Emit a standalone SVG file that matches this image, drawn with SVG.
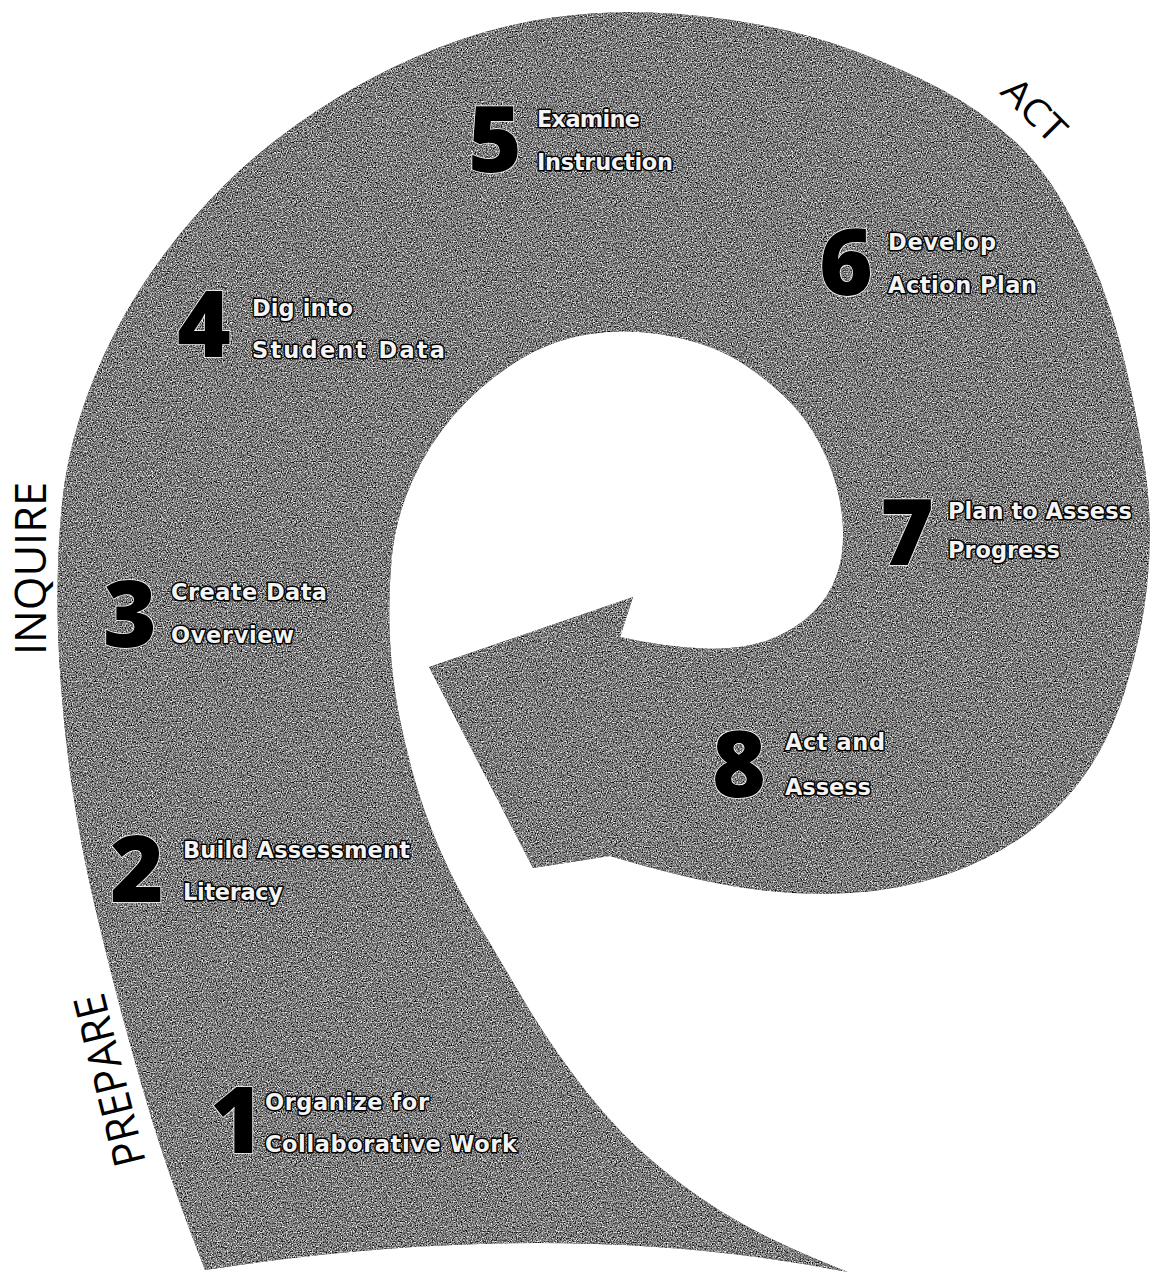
<svg xmlns="http://www.w3.org/2000/svg" width="1153" height="1275" viewBox="0 0 1153 1275">
  <style>
    .num { font-family: "Open Sans", "Liberation Sans", sans-serif; font-weight: 800; font-size: 92px; fill: #000; stroke: #fff; stroke-width: 1.5; paint-order: stroke; }
    .lbl { font-family: "DejaVu Sans", "Liberation Sans", sans-serif; font-weight: 700; font-size: 22.5px; fill: #f4f4f4; stroke: #000; stroke-width: 3; stroke-linejoin: round; paint-order: stroke; }
    .phase { font-family: "Open Sans", "Liberation Sans", sans-serif; font-weight: 400; fill: #000; }
  </style>
  <defs>
    <filter id="grain" filterUnits="userSpaceOnUse" x="0" y="0" width="1153" height="1275" color-interpolation-filters="sRGB">
      <feTurbulence type="fractalNoise" baseFrequency="0.8" numOctaves="2" seed="4" result="t"/>
      <feColorMatrix in="t" type="matrix" values="0.33 0.33 0.33 0 0  0.33 0.33 0.33 0 0  0.33 0.33 0.33 0 0  0 0 0 0 1" result="g"/>
      <feComponentTransfer in="g" result="c">
        <feFuncR type="linear" slope="2.8" intercept="-0.9"/>
        <feFuncG type="linear" slope="2.8" intercept="-0.9"/>
        <feFuncB type="linear" slope="2.8" intercept="-0.9"/>
      </feComponentTransfer>
      <feComposite in="c" in2="SourceGraphic" operator="in"/>
    </filter>
    <path id="spiralShape" d="M205,1270 Q170,1180 150.5,1115 Q131,1050 115.5,990 Q100,930 90,885 Q80,840 72.5,790 Q65,740 61,686.5 Q57,633 57.5,589 Q58,545 62,503.5 Q66,462 79.5,418.5 Q93,375 114.5,333.5 Q136,292 164,254.5 Q192,217 225,184.5 Q258,152 296,125 Q334,98 375,76.5 Q416,55 461,39.5 Q506,24 553,17.5 Q600,11 650,12.5 Q700,14 755,24 Q810,34 857.5,52 Q905,70 942.5,90 Q980,110 1015,141.5 Q1050,173 1080.5,235.5 Q1111,298 1127.5,374 Q1144,450 1148,495 Q1152,540 1147,586.5 Q1142,633 1127,684 Q1112,735 1087,771.5 Q1062,808 1026,834 Q990,860 945,875 Q900,890 850,893 Q800,896 745,888 Q690,880 610,856 L533,868 L429,667 L633,597 L620,637 Q665,647 703.5,648.5 Q742,650 768.5,640 Q795,630 812.5,613 Q830,596 837.5,573 Q845,550 842.5,520 Q840,490 827.5,460 Q815,430 795,407.5 Q775,385 745,365 Q715,345 672.5,336.5 Q630,328 590,334 Q550,340 515,362.5 Q480,385 454,415 Q428,445 411.5,482.5 Q395,520 391.5,560 Q388,600 390,640 Q392,680 399,715 Q406,750 415.5,782.5 Q425,815 440,850 Q455,885 477.5,922.5 Q500,960 525,1002.5 Q550,1045 585,1090 Q620,1135 660,1167.5 Q700,1200 740,1222.5 Q780,1245 848,1272 Q560,1215 205,1270 Z"/>
  </defs>

  <rect width="1153" height="1275" fill="#fff"/>

  <g id="connectors">
    <g id="spiral-arrow">
      <use href="#spiralShape" fill="#808080"/>
      <use href="#spiralShape" fill="#808080" filter="url(#grain)"/>
    </g>
  </g>

  <g id="phase-act"><text class="phase" font-size="37" transform="translate(999,93) rotate(45)" textLength="74" lengthAdjust="spacingAndGlyphs">ACT</text></g>
  <g id="phase-inquire"><text class="phase" font-size="44" transform="translate(46,655) rotate(-90)" textLength="173" lengthAdjust="spacingAndGlyphs">INQUIRE</text></g>
  <g id="phase-prepare"><text class="phase" font-size="44" transform="translate(146,1162) rotate(-104)" textLength="176" lengthAdjust="spacingAndGlyphs">PREPARE</text></g>

  <g id="step-1">
    <text class="num" x="210" y="1153">1</text>
    <text class="lbl" x="265" y="1110" textLength="164">Organize for</text>
    <text class="lbl" x="265" y="1152" textLength="252">Collaborative Work</text>
  </g>
  <g id="step-2">
    <text class="num" x="110" y="902">2</text>
    <text class="lbl" x="183" y="858" textLength="227">Build Assessment</text>
    <text class="lbl" x="183" y="900" textLength="100">Literacy</text>
  </g>
  <g id="step-3">
    <text class="num" x="103" y="647">3</text>
    <text class="lbl" x="171" y="600" textLength="156">Create Data</text>
    <text class="lbl" x="171" y="643" textLength="123">Overview</text>
  </g>
  <g id="step-4">
    <text class="num" x="177" y="357">4</text>
    <text class="lbl" x="252" y="316" textLength="101">Dig into</text>
    <text class="lbl" x="252" y="358" textLength="193">Student Data</text>
  </g>
  <g id="step-5">
    <text class="num" x="468" y="172">5</text>
    <text class="lbl" x="537" y="127" textLength="103">Examine</text>
    <text class="lbl" x="537" y="170" textLength="136">Instruction</text>
  </g>
  <g id="step-6">
    <text class="num" x="819" y="295">6</text>
    <text class="lbl" x="888" y="250" textLength="108">Develop</text>
    <text class="lbl" x="888" y="293" textLength="149">Action Plan</text>
  </g>
  <g id="step-7">
    <text class="num" x="880" y="565">7</text>
    <text class="lbl" x="948" y="519" textLength="184">Plan to Assess</text>
    <text class="lbl" x="948" y="558" textLength="112">Progress</text>
  </g>
  <g id="step-8">
    <text class="num" x="712" y="797">8</text>
    <text class="lbl" x="785" y="750" textLength="100">Act and</text>
    <text class="lbl" x="785" y="795" textLength="86">Assess</text>
  </g>
</svg>
